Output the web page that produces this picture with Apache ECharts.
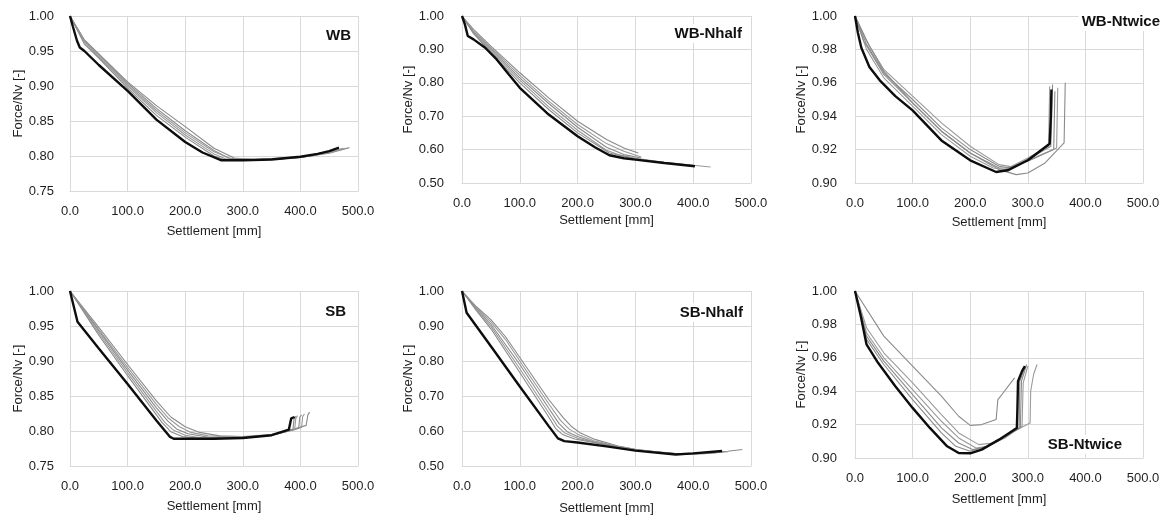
<!DOCTYPE html>
<html>
<head>
<meta charset="utf-8">
<title>Force/Nv vs Settlement</title>
<script src="https://cdn.jsdelivr.net/npm/echarts@6/dist/echarts.min.js"></script>
<style>
  html, body { margin: 0; padding: 0; background: #fff; }
  #chart { width: 1171px; height: 519px; }
</style>
</head>
<body>
<div id="chart"></div>
<script>
// Panel names and y-axis ranges [min, max, step]
const panelNames = ['WB', 'WB-Nhalf', 'WB-Ntwice', 'SB', 'SB-Nhalf', 'SB-Ntwice'];
const yRanges = [[0.75, 1.0, 0.05], [0.5, 1.0, 0.1], [0.9, 1.0, 0.02], [0.75, 1.0, 0.05], [0.5, 1.0, 0.1], [0.9, 1.0, 0.02]];
const xTicks = [0, 100, 200, 300, 400, 500];

// WB: reference run (black) and variations (grey), [settlement mm, Force/Nv]
const wbMain = [[0,1.0],[5,0.985],[12,0.965],[17,0.955],[25,0.950],[50,0.930],[100,0.893],[150,0.852],[200,0.820],[230,0.805],[262,0.794],[300,0.794],[350,0.795],[400,0.799],[430,0.803],[450,0.807],[467,0.812]];
const wbRuns = [
  [[0,1.0],[25,0.965],[50,0.945],[100,0.904],[150,0.868],[200,0.836],[250,0.808],[275,0.797],[300,0.795],[350,0.795],[400,0.798],[450,0.804],[485,0.812]],
  [[0,1.0],[25,0.963],[50,0.942],[100,0.900],[150,0.862],[200,0.830],[250,0.803],[270,0.796],[300,0.795],[350,0.795],[400,0.798],[450,0.805],[478,0.811]],
  [[0,1.0],[25,0.966],[50,0.946],[100,0.906],[150,0.872],[200,0.842],[250,0.811],[285,0.797],[320,0.795],[370,0.796],[420,0.800],[472,0.810]],
  [[0,1.0],[25,0.964],[50,0.944],[100,0.902],[150,0.865],[200,0.833],[250,0.806],[280,0.796],[330,0.795],[400,0.798],[450,0.805],[475,0.811]],
  [[0,1.0],[25,0.960],[50,0.940],[100,0.897],[150,0.858],[200,0.827],[250,0.800],[268,0.795],[320,0.795],[400,0.799],[460,0.808]]
];

// WB-Nhalf
const wbHalfMain = [[0,1.0],[5,0.975],[10,0.940],[20,0.930],[40,0.905],[60,0.870],[80,0.827],[100,0.785],[150,0.705],[200,0.640],[230,0.607],[255,0.583],[280,0.574],[300,0.570],[350,0.560],[403,0.550]];
const wbHalfRuns = [
  [[0,1.0],[20,0.960],[50,0.910],[100,0.830],[150,0.755],[200,0.685],[250,0.630],[280,0.605],[305,0.590]],
  [[0,1.0],[20,0.955],[50,0.905],[100,0.822],[150,0.745],[200,0.675],[250,0.618],[280,0.595],[310,0.578]],
  [[0,1.0],[20,0.952],[50,0.900],[100,0.815],[150,0.738],[200,0.667],[250,0.607],[280,0.585],[310,0.575]],
  [[0,1.0],[20,0.950],[50,0.895],[100,0.808],[150,0.728],[200,0.658],[250,0.598],[270,0.585],[300,0.574],[350,0.562],[400,0.553],[430,0.548]],
  [[0,1.0],[20,0.947],[50,0.890],[100,0.800],[150,0.720],[200,0.650],[255,0.590],[300,0.572],[350,0.561],[400,0.552]]
];

// WB-Ntwice
const wbTwiceMain = [[0,1.0],[5,0.990],[11,0.981],[25,0.9695],[43,0.9615],[70,0.952],[100,0.9435],[150,0.9255],[200,0.9136],[245,0.9066],[265,0.9076],[300,0.9136],[338,0.9235],[340,0.940],[341,0.956]];
const wbTwiceRuns = [
  [[0,1.0],[20,0.983],[50,0.966],[100,0.950],[150,0.933],[200,0.920],[250,0.910],[270,0.909],[300,0.914],[340,0.922],[343,0.959]],
  [[0,1.0],[20,0.985],[50,0.968],[100,0.952],[150,0.936],[200,0.922],[250,0.911],[275,0.9095],[310,0.915],[350,0.921],[352,0.957]],
  [[0,1.0],[25,0.982],[50,0.967],[100,0.948],[150,0.931],[200,0.918],[250,0.908],[280,0.905],[300,0.906],[330,0.912],[363,0.924],[365,0.960]],
  [[0,1.0],[20,0.980],[50,0.963],[100,0.946],[150,0.929],[200,0.916],[240,0.909],[260,0.908],[300,0.915],[336,0.922],[338,0.958]],
  [[0,1.0],[15,0.985],[50,0.965],[100,0.948],[150,0.931],[200,0.918],[250,0.909],[265,0.909],[300,0.913],[345,0.920],[347,0.955]]
];

// SB
const sbMain = [[0,1.0],[13,0.956],[50,0.918],[100,0.867],[150,0.815],[173,0.792],[180,0.789],[250,0.789],[300,0.790],[350,0.794],[380,0.802],[383,0.804],[384,0.818],[390,0.820]];
const sbRuns = [
  [[0,1.0],[50,0.948],[100,0.895],[150,0.843],[175,0.820],[200,0.806],[225,0.798],[260,0.793],[300,0.792],[350,0.795],[390,0.803],[410,0.808],[413,0.823],[416,0.827]],
  [[0,1.0],[50,0.945],[100,0.891],[150,0.838],[170,0.819],[190,0.806],[210,0.798],[240,0.793],[300,0.791],[350,0.794],[385,0.801],[402,0.805],[404,0.821],[407,0.824]],
  [[0,1.0],[50,0.943],[100,0.887],[150,0.833],[170,0.814],[185,0.803],[205,0.796],[240,0.791],[300,0.790],[350,0.794],[385,0.801],[397,0.804],[399,0.820],[402,0.823]],
  [[0,1.0],[50,0.940],[100,0.883],[150,0.828],[165,0.812],[180,0.801],[200,0.794],[230,0.790],[300,0.790],[350,0.794],[390,0.802],[392,0.818],[395,0.822]],
  [[0,1.0],[50,0.937],[100,0.879],[150,0.823],[160,0.812],[175,0.799],[195,0.792],[220,0.790],[300,0.790],[350,0.794],[387,0.802],[389,0.817],[392,0.821]]
];

// SB-Nhalf
const sbHalfMain = [[0,1.0],[8,0.938],[50,0.842],[100,0.727],[150,0.614],[166,0.579],[177,0.571],[200,0.567],[250,0.556],[300,0.544],[370,0.533],[400,0.536],[450,0.543]];
const sbHalfRuns = [
  [[0,1.0],[25,0.955],[50,0.918],[75,0.870],[100,0.810],[150,0.690],[175,0.638],[190,0.612],[205,0.594],[230,0.576],[270,0.557],[300,0.548],[350,0.538],[380,0.534],[420,0.536],[460,0.542],[485,0.547]],
  [[0,1.0],[25,0.952],[50,0.912],[75,0.862],[100,0.800],[150,0.678],[170,0.631],[185,0.606],[200,0.591],[230,0.571],[270,0.556],[300,0.547],[350,0.537],[380,0.533],[420,0.535],[460,0.541]],
  [[0,1.0],[25,0.950],[50,0.905],[100,0.790],[150,0.665],[168,0.621],[182,0.598],[200,0.584],[230,0.568],[300,0.546],[380,0.534],[440,0.538]],
  [[0,1.0],[25,0.947],[50,0.899],[100,0.778],[150,0.652],[165,0.614],[178,0.594],[200,0.579],[250,0.560],[300,0.546],[370,0.535],[430,0.538]],
  [[0,1.0],[25,0.944],[50,0.892],[100,0.767],[150,0.640],[162,0.607],[175,0.589],[195,0.577],[250,0.560],[300,0.545],[370,0.535],[420,0.536]]
];

// SB-Ntwice
const sbTwiceMain = [[0,1.0],[10,0.985],[20,0.968],[40,0.957],[70,0.943],[100,0.930],[130,0.918],[160,0.907],[180,0.903],[200,0.9028],[220,0.905],[250,0.911],[281,0.918],[282,0.930],[283,0.946],[290,0.952],[295,0.955]];
const sbTwiceRuns = [
  [[0,1.0],[50,0.973],[100,0.955],[150,0.937],[180,0.925],[200,0.9195],[220,0.920],[245,0.923],[248,0.935],[255,0.938],[277,0.948]],
  [[0,1.0],[20,0.975],[50,0.960],[100,0.941],[150,0.922],[180,0.912],[210,0.906],[230,0.907],[260,0.913],[290,0.919],[292,0.945],[300,0.955]],
  [[0,1.0],[20,0.973],[50,0.958],[100,0.938],[150,0.918],[180,0.909],[205,0.905],[230,0.907],[260,0.913],[287,0.918],[289,0.946],[298,0.956]],
  [[0,1.0],[20,0.978],[50,0.963],[100,0.945],[150,0.926],[180,0.915],[215,0.908],[240,0.909],[270,0.915],[304,0.921],[305,0.940],[310,0.950],[316,0.956]],
  [[0,1.0],[20,0.971],[50,0.956],[100,0.935],[150,0.915],[175,0.907],[200,0.904],[230,0.907],[260,0.912],[285,0.918],[286,0.946],[296,0.955]]
];

const mainRuns = [wbMain, wbHalfMain, wbTwiceMain, sbMain, sbHalfMain, sbTwiceMain];
const otherRuns = [wbRuns, wbHalfRuns, wbTwiceRuns, sbRuns, sbHalfRuns, sbTwiceRuns];

// Layout of the six plot areas (pixels)
const gridBoxes = [
  { left: 70,  top: 16,  width: 288, height: 175 },
  { left: 462, top: 16,  width: 289, height: 167 },
  { left: 855, top: 16,  width: 288, height: 167 },
  { left: 70,  top: 291, width: 288, height: 175 },
  { left: 462, top: 291, width: 289, height: 175 },
  { left: 855, top: 291, width: 288, height: 167 }
];
const titleSpots = [
  { right: 817, top: 26 },
  { right: 426, top: 24 },
  { right: 8,   top: 12 },
  { right: 822, top: 302 },
  { right: 425, top: 303 },
  { right: 46,  top: 435 }
];
const yNameGaps = [45, 47, 45, 45, 47, 45];
const xNameGaps = [34, 31, 33, 34, 36, 35];
const yLabelMargins = [16, 18, 18, 16, 18, 18];

const FONT = '"Liberation Sans", Arial, sans-serif';
const GRID_COLOR = '#d9d9d9';
const TEXT_COLOR = '#1f1f1f';

const grid = [], xAxis = [], yAxis = [], series = [], title = [];

panelNames.forEach((name, i) => {
  grid.push(Object.assign({ containLabel: false }, gridBoxes[i]));
  xAxis.push({
    type: 'value', gridIndex: i, min: xTicks[0], max: xTicks[xTicks.length - 1], interval: xTicks[1] - xTicks[0],
    name: 'Settlement [mm]', nameLocation: 'middle', nameGap: xNameGaps[i],
    nameTextStyle: { fontFamily: FONT, fontSize: 13, color: TEXT_COLOR },
    axisLine: { show: true, lineStyle: { color: GRID_COLOR, width: 1 } },
    axisTick: { show: false },
    axisLabel: { fontFamily: FONT, fontSize: 13, color: TEXT_COLOR, margin: 14,
      formatter: v => v.toFixed(1) },
    splitLine: { show: true, lineStyle: { color: GRID_COLOR, width: 1 } }
  });
  const [ymin, ymax, step] = yRanges[i];
  yAxis.push({
    type: 'value', gridIndex: i, min: ymin, max: ymax, interval: step,
    name: 'Force/Nv [-]', nameLocation: 'middle', nameGap: yNameGaps[i], nameRotate: 90,
    nameTextStyle: { fontFamily: FONT, fontSize: 13, color: TEXT_COLOR },
    axisLine: { show: true, lineStyle: { color: GRID_COLOR, width: 1 } },
    axisTick: { show: false },
    axisLabel: { fontFamily: FONT, fontSize: 13, color: TEXT_COLOR, margin: yLabelMargins[i],
      formatter: v => v.toFixed(2) },
    splitLine: { show: true, lineStyle: { color: GRID_COLOR, width: 1 } }
  });
  otherRuns[i].forEach((run, k) => {
    series.push({
      type: 'line', xAxisIndex: i, yAxisIndex: i, data: run,
      showSymbol: false, smooth: false, silent: true,
      lineStyle: { color: k % 2 ? '#9a9a9a' : '#8a8a8a', width: 1.1 }
    });
  });
  series.push({
    type: 'line', xAxisIndex: i, yAxisIndex: i, data: mainRuns[i],
    showSymbol: false, smooth: false, silent: true, z: 5,
    lineStyle: { color: '#0d0d0d', width: 2.4 }
  });
  title.push(Object.assign({
    text: name, padding: [2, 3], backgroundColor: '#ffffff',
    textStyle: { fontFamily: FONT, fontSize: 15, fontWeight: 'bold', color: '#111' }
  }, titleSpots[i]));
});

const chart = echarts.init(document.getElementById('chart'), null, { renderer: 'canvas' });
chart.setOption({
  animation: false,
  backgroundColor: '#ffffff',
  title, grid, xAxis, yAxis, series
});
</script>
</body>
</html>
